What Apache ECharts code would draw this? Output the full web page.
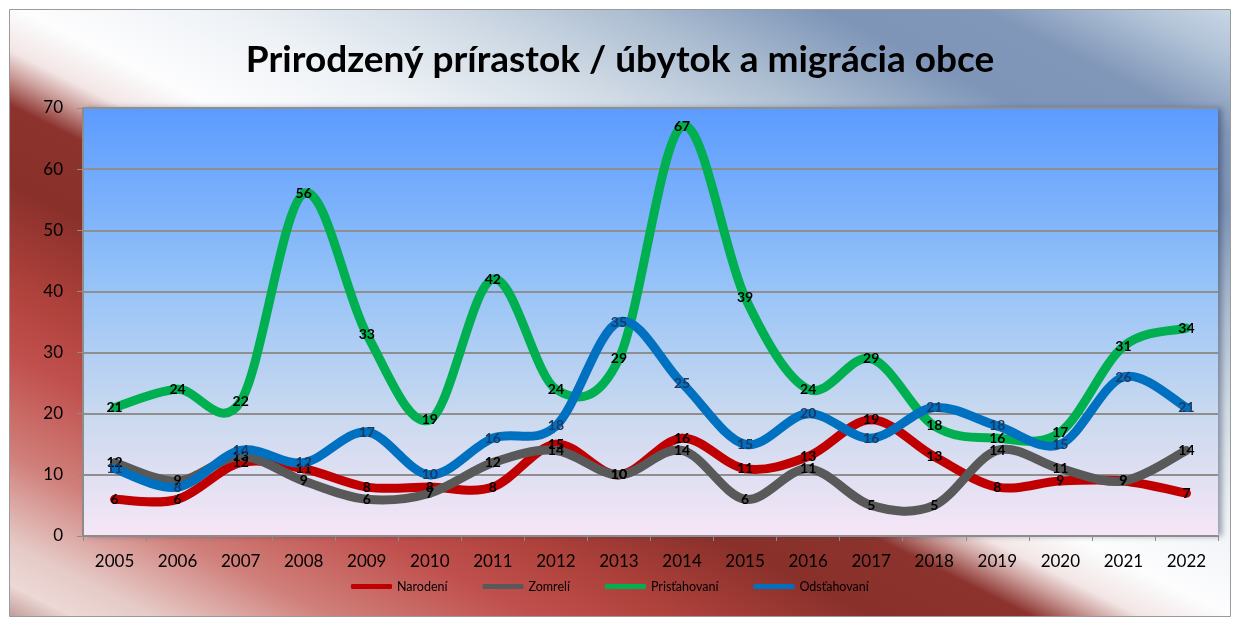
<!DOCTYPE html>
<html>
<head>
<meta charset="utf-8">
<script src="https://cdn.jsdelivr.net/npm/echarts@6/dist/echarts.min.js"></script>
<style>
  html, body { margin: 0; padding: 0; background: #fff; }
  #chart { width: 1240px; height: 617px; }
</style>
</head>
<body>
<div id="chart"></div>
<script>
// roky
const years = ["2005", "2006", "2007", "2008", "2009", "2010", "2011", "2012", "2013",
  "2014", "2015", "2016", "2017", "2018", "2019", "2020", "2021", "2022"];

// hodnoty radov
const narodeni = [6, 6, 12, 11, 8, 8, 8, 15, 10, 16, 11, 13, 19, 13, 8, 9, 9, 7];
const zomreli = [12, 9, 13, 9, 6, 7, 12, 14, 10, 14, 6, 11, 5, 5, 14, 11, 9, 14];
const pristahovani = [21, 24, 22, 56, 33, 19, 42, 24, 29, 67, 39, 24, 29, 18, 16, 17, 31, 34];
const odstahovani = [11, 8, 14, 12, 17, 10, 16, 18, 35, 25, 15, 20, 16, 21, 18, 15, 26, 21];

const yTicks = [0, 10, 20, 30, 40, 50, 60, 70];

const font = "Lato";
const chart = echarts.init(document.getElementById("chart"));

function lin(x, y, x2, y2, stops, global) {
  return new echarts.graphic.LinearGradient(x, y, x2, y2, stops, global);
}

// vyhladena ciara ako v Exceli (Catmull-Rom), body cez api.coord
function makeSeries(name, values, color, labelColor) {
  return {
    name: name,
    type: "custom",
    coordinateSystem: "cartesian2d",
    clip: false,
    itemStyle: { color: color },
    encode: { x: 0, y: 1 },
    data: values.map((v, i) => [i, v]),
    renderItem: function (params, api) {
      const idx = params.dataIndex;
      const children = [];
      if (idx === 0) {
        const pts = values.map((v, i) => api.coord([i, v]));
        for (let i = 0; i < pts.length - 1; i++) {
          const p0 = pts[i - 1] || pts[i];
          const p1 = pts[i];
          const p2 = pts[i + 1];
          const p3 = pts[i + 2] || pts[i + 1];
          children.push({
            type: "bezierCurve",
            shape: {
              x1: p1[0], y1: p1[1],
              cpx1: p1[0] + (p2[0] - p0[0]) / 6, cpy1: p1[1] + (p2[1] - p0[1]) / 6,
              cpx2: p2[0] - (p3[0] - p1[0]) / 6, cpy2: p2[1] - (p3[1] - p1[1]) / 6,
              x2: p2[0], y2: p2[1]
            },
            style: { stroke: color, lineWidth: 9, fill: null, lineCap: "round" },
            z2: 1
          });
        }
      }
      const c = api.coord([idx, values[idx]]);
      children.push({
        type: "text",
        x: c[0],
        y: c[1],
        z2: 100,
        style: {
          text: String(values[idx]),
          fill: labelColor,
          font: "bold 14px " + font,
          align: "center",
          verticalAlign: "middle"
        }
      });
      return { type: "group", children: children };
    }
  };
}

chart.setOption({
  animation: false,
  color: ["#c00000", "#595959", "#00b050", "#0070c0"],
  graphic: [
    // pozadie grafu
    {
      type: "rect", z: -10, silent: true,
      shape: { x: 9.5, y: 9.5, width: 1221, height: 607 },
      style: {
        fill: lin(620, -340, 100, 700, [
          { offset: 0, color: "#dde7f1" },
          { offset: 0.07, color: "#b3c4d8" },
          { offset: 0.13, color: "#8197b9" },
          { offset: 0.19, color: "#7e95b8" },
          { offset: 0.27, color: "#aebfd2" },
          { offset: 0.346, color: "#d3dde7" },
          { offset: 0.423, color: "#eef2f6" },
          { offset: 0.5, color: "#fdfdfe" },
          { offset: 0.535, color: "#f2e6e5" },
          { offset: 0.554, color: "#c99a97" },
          { offset: 0.577, color: "#8c332e" },
          { offset: 0.638, color: "#8a302b" },
          { offset: 0.715, color: "#b0423c" },
          { offset: 0.769, color: "#c0504d" },
          { offset: 0.846, color: "#d07f7a" },
          { offset: 0.915, color: "#e6cbc8" },
          { offset: 0.946, color: "#ecd8d5" },
          { offset: 0.977, color: "#b88c88" },
          { offset: 1, color: "#a6736f" }
        ], true),
        stroke: "#9a9a9a", lineWidth: 1
      }
    }
  ],
  title: {
    text: "Prirodzený prírastok / úbytok a migrácia obce",
    left: "center",
    top: 37,
    textStyle: { fontFamily: font, fontWeight: "bold", fontSize: 37, color: "#000" }
  },
  legend: {
    left: 346,
    top: 575,
    itemWidth: 41,
    itemHeight: 5,
    itemGap: 35,
    icon: "roundRect",
    textStyle: { fontFamily: font, fontSize: 12.5, color: "#000" },
    data: ["Narodení", "Zomrelí", "Prisťahovaní", "Odsťahovaní"]
  },
  grid: {
    left: 83,
    right: 22,
    top: 108,
    bottom: 81,
    show: true,
    borderWidth: 0,
    backgroundColor: lin(0, 0, 0, 1, [
      { offset: 0, color: "#5c9bff" },
      { offset: 0.4, color: "#94c2f8" },
      { offset: 0.72, color: "#cad9ef" },
      { offset: 1, color: "#f6e6f6" }
    ]),
    shadowColor: "rgba(40,50,80,0.45)",
    shadowBlur: 6,
    shadowOffsetX: 4,
    shadowOffsetY: 0
  },
  xAxis: {
    type: "category",
    data: years,
    boundaryGap: true,
    axisLine: { lineStyle: { color: "#8c8c8c", width: 2 } },
    axisTick: { show: true, length: 5, lineStyle: { color: "#8c8c8c" } },
    axisLabel: { fontFamily: font, fontSize: 17, color: "#000", margin: 17 }
  },
  yAxis: {
    type: "value",
    min: yTicks[0],
    max: yTicks[yTicks.length - 1],
    interval: 10,
    axisLine: { show: true, lineStyle: { color: "#8c8c8c", width: 2 } },
    axisTick: { show: true, length: 6, lineStyle: { color: "#8c8c8c" } },
    splitLine: { show: true, lineStyle: { color: "#8f8f8f", width: 2 } },
    axisLabel: { fontFamily: font, fontSize: 17, color: "#000", margin: 20 }
  },
  series: [
    makeSeries("Narodení", narodeni, "#c00000", "#000"),
    makeSeries("Zomrelí", zomreli, "#595959", "#000"),
    makeSeries("Prisťahovaní", pristahovani, "#00b050", "#000"),
    makeSeries("Odsťahovaní", odstahovani, "#0070c0", "#1b3a60")
  ]
});
</script>
</body>
</html>
